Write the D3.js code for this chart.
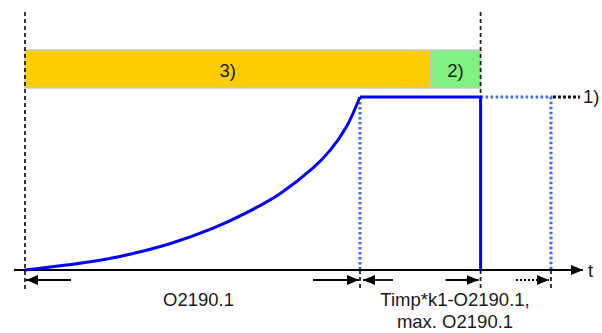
<!DOCTYPE html>
<html>
<head>
<meta charset="utf-8">
<script src="https://cdn.jsdelivr.net/npm/d3@7"></script>
<style>
  body { margin: 0; background: #fff; }
  text { font-family: "Liberation Sans", Arial, sans-serif; fill: #1a1a1a; }
</style>
</head>
<body>
<svg id="chart"></svg>
<script>
// curve: rising output until the limit time (O2190.1)
const curveT = [0, 1.3, 2.8, 4.3, 5.6, 6.6, 7.6, 8.6, 9.1, 9.6, 10];
const curveV = [0, 0.03, 0.077, 0.15, 0.24, 0.33, 0.44, 0.59, 0.69, 0.83, 1];

// key time points: start, limit reached, switch off, possible restart
const phaseTimes = [0, 10, 13.6, 15.7];

// top bars
const barLabels = ['3)', '2)'];
const barStarts = [0, 12.1];
const barEnds = [12.1, 13.6];
const barColors = ['#ffcc00', '#80f080'];

const width = 602, height = 333;

const svg = d3.select('#chart')
    .attr('width', width)
    .attr('height', height);

const x = d3.scaleLinear().domain([0, 10]).range([25, 360]);
const y = d3.scaleLinear().domain([0, 1]).range([270, 97]);

// arrow markers
const defs = svg.append('defs');
defs.append('marker')
    .attr('id', 'head')
    .attr('viewBox', '0 0 12 10')
    .attr('refX', 12).attr('refY', 5)
    .attr('markerUnits', 'userSpaceOnUse')
    .attr('markerWidth', 12).attr('markerHeight', 10)
    .attr('orient', 'auto')
    .append('path').attr('d', 'M0,0 L12,5 L0,10 Z').attr('fill', '#000');

const dashed = { stroke: '#222', width: 1.8, dash: '4,3' };

// top bars
barLabels.forEach((lab, i) => {
    svg.append('rect')
        .attr('x', x(barStarts[i]))
        .attr('y', 50)
        .attr('width', x(barEnds[i]) - x(barStarts[i]))
        .attr('height', 38)
        .attr('fill', barColors[i])
        .attr('stroke', '#c8c8c8')
        .attr('stroke-width', 1.5);
    svg.append('text')
        .attr('x', (x(barStarts[i]) + x(barEnds[i])) / 2)
        .attr('y', 77)
        .attr('text-anchor', 'middle')
        .style('font-size', '18.5px')
        .text(lab);
});

// vertical dashed guides
svg.append('line')
    .attr('x1', x(phaseTimes[0])).attr('x2', x(phaseTimes[0]))
    .attr('y1', 12).attr('y2', 290)
    .attr('stroke', dashed.stroke).attr('stroke-width', dashed.width)
    .attr('stroke-dasharray', dashed.dash);
svg.append('line')
    .attr('x1', x(phaseTimes[2])).attr('x2', x(phaseTimes[2]))
    .attr('y1', 12).attr('y2', y(1))
    .attr('stroke', dashed.stroke).attr('stroke-width', dashed.width)
    .attr('stroke-dasharray', dashed.dash);
phaseTimes.slice(1).forEach(t => {
    svg.append('line')
        .attr('x1', x(t)).attr('x2', x(t))
        .attr('y1', y(0)).attr('y2', 289)
        .attr('stroke', dashed.stroke).attr('stroke-width', dashed.width)
        .attr('stroke-dasharray', dashed.dash);
});

// dotted blue continuation
const dotted = { stroke: '#3a6cf5', width: 3, dash: '2.5,2.5' };
svg.append('line')
    .attr('x1', x(phaseTimes[1])).attr('x2', x(phaseTimes[1]))
    .attr('y1', y(1)).attr('y2', y(0))
    .attr('stroke', dotted.stroke).attr('stroke-width', dotted.width)
    .attr('stroke-dasharray', dotted.dash);
svg.append('path')
    .attr('d', `M${x(phaseTimes[2])},${y(1)} H${x(phaseTimes[3])} V${y(0)}`)
    .attr('fill', 'none')
    .attr('stroke', dotted.stroke).attr('stroke-width', dotted.width)
    .attr('stroke-dasharray', dotted.dash);

// black dotted to label 1)
svg.append('line')
    .attr('x1', x(phaseTimes[3]) + 2).attr('x2', 580)
    .attr('y1', y(1)).attr('y2', y(1))
    .attr('stroke', '#111').attr('stroke-width', 3)
    .attr('stroke-dasharray', '3,2');
svg.append('text')
    .attr('x', 583).attr('y', 103)
    .style('font-size', '18.5px')
    .text('1)');

// time axis
svg.append('line')
    .attr('x1', 14).attr('x2', 583)
    .attr('y1', y(0)).attr('y2', y(0))
    .attr('stroke', '#000').attr('stroke-width', 1.8)
    .attr('marker-end', 'url(#head)');
svg.append('text')
    .attr('x', 588).attr('y', 277)
    .style('font-size', '18.5px')
    .text('t');

// solid blue signal
const line = d3.line()
    .x(d => x(d[0]))
    .y(d => y(d[1]))
    .curve(d3.curveCatmullRom.alpha(0.5));
svg.append('path')
    .datum(curveT.map((t, i) => [t, curveV[i]]))
    .attr('d', line)
    .attr('fill', 'none')
    .attr('stroke', '#0000ff')
    .attr('stroke-width', 3);
svg.append('path')
    .attr('d', `M${x(phaseTimes[1])},${y(1)} H${x(phaseTimes[2])} V${y(0)}`)
    .attr('fill', 'none')
    .attr('stroke', '#0000ff')
    .attr('stroke-width', 3);

// duration arrows under the axis
const ay = 280;
const arrows = [
    [x(phaseTimes[0]) + 46, x(phaseTimes[0]) + 1, false],
    [x(phaseTimes[1]) - 47, x(phaseTimes[1]) - 1, false],
    [x(phaseTimes[1]) + 33, x(phaseTimes[1]) + 3, false],
    [x(phaseTimes[2]) - 35, x(phaseTimes[2]) - 2, false],
    [x(phaseTimes[3]) - 35, x(phaseTimes[3]) - 2, true]
];
arrows.forEach(a => {
    svg.append('line')
        .attr('x1', a[0]).attr('x2', a[1])
        .attr('y1', ay).attr('y2', ay)
        .attr('stroke', '#000').attr('stroke-width', 1.8)
        .attr('stroke-dasharray', a[2] ? '2,2' : null)
        .attr('marker-end', 'url(#head)');
});

// duration labels
svg.append('text')
    .attr('x', (x(phaseTimes[0]) + x(phaseTimes[1])) / 2 + 6)
    .attr('y', 306)
    .attr('text-anchor', 'middle')
    .style('font-size', '18.5px')
    .text('O2190.1');
svg.append('text')
    .attr('x', 455).attr('y', 306)
    .attr('text-anchor', 'middle')
    .style('font-size', '18.5px')
    .text('Timp*k1-O2190.1,');
svg.append('text')
    .attr('x', 455).attr('y', 328)
    .attr('text-anchor', 'middle')
    .style('font-size', '18.5px')
    .text('max. O2190.1');
</script>
</body>
</html>
